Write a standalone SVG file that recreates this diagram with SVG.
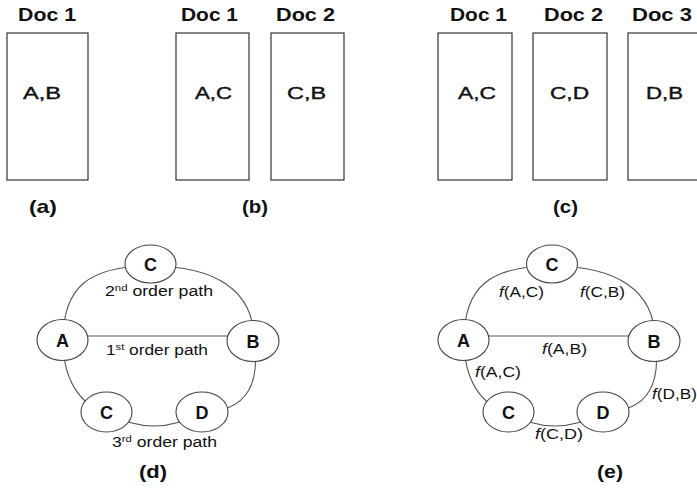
<svg xmlns="http://www.w3.org/2000/svg" width="697" height="489" viewBox="0 0 697 489">
<style>
text{font-family:"Liberation Sans",Arial,sans-serif;fill:#111}
.doc{font-size:18px;font-weight:bold}
.in{font-size:17px;stroke:#111;stroke-width:0.4}
.cap{font-size:19px;font-weight:bold}
.box{fill:#fff;stroke:#333;stroke-width:1.2}
.node ellipse{fill:#fff;stroke:#444;stroke-width:1.1}
.node text{font-size:18px;font-weight:bold;text-anchor:middle}
.edge{fill:none;stroke:#555;stroke-width:1.1}
.lbl{font-size:14px}
.sup{font-size:9px}
</style>
<rect width="697" height="489" fill="#fff"/>

<g id="panel-a">
<rect class="box" x="7" y="33" width="81" height="147"/>
<text class="doc" x="18" y="21" textLength="58" lengthAdjust="spacingAndGlyphs">Doc 1</text>
<text class="in" x="23" y="99" textLength="38" lengthAdjust="spacingAndGlyphs">A,B</text>
<text class="cap" x="29" y="213" textLength="28" lengthAdjust="spacingAndGlyphs">(a)</text>
</g>

<g id="panel-b">
<rect class="box" x="176" y="33" width="73" height="147"/>
<rect class="box" x="271" y="33" width="73" height="147"/>
<text class="doc" x="181" y="21" textLength="57" lengthAdjust="spacingAndGlyphs">Doc 1</text>
<text class="doc" x="276" y="21" textLength="59" lengthAdjust="spacingAndGlyphs">Doc 2</text>
<text class="in" x="195" y="99" textLength="37" lengthAdjust="spacingAndGlyphs">A,C</text>
<text class="in" x="287" y="99" textLength="39" lengthAdjust="spacingAndGlyphs">C,B</text>
<text class="cap" x="242" y="213" textLength="26" lengthAdjust="spacingAndGlyphs">(b)</text>
</g>

<g id="panel-c">
<rect class="box" x="438" y="33" width="74" height="147"/>
<rect class="box" x="533" y="33" width="74" height="147"/>
<rect class="box" x="628" y="33" width="74" height="147"/>
<text class="doc" x="450" y="21" textLength="57" lengthAdjust="spacingAndGlyphs">Doc 1</text>
<text class="doc" x="544" y="21" textLength="59" lengthAdjust="spacingAndGlyphs">Doc 2</text>
<text class="doc" x="632" y="21" textLength="60" lengthAdjust="spacingAndGlyphs">Doc 3</text>
<text class="in" x="458" y="99" textLength="38" lengthAdjust="spacingAndGlyphs">A,C</text>
<text class="in" x="550" y="99" textLength="39" lengthAdjust="spacingAndGlyphs">C,D</text>
<text class="in" x="646" y="99" textLength="37" lengthAdjust="spacingAndGlyphs">D,B</text>
<text class="cap" x="553" y="213" textLength="25" lengthAdjust="spacingAndGlyphs">(c)</text>
</g>

<g id="connectors">
<path class="edge" d="M63 340 C63 288 88 266 150 266 C215 266 254 290 254 340 C260 380 250 412 202 412 Q154 440 106 412 C80 405 63 380 63 340 Z"/>
<line class="edge" x1="63" y1="336" x2="253" y2="336"/>
<path class="edge" d="M464 340 C464 288 489 266 551 266 C616 266 655 290 655 340 C661 380 651 412 603 412 Q555 440 507 412 C481 405 464 380 464 340 Z"/>
<line class="edge" x1="464" y1="336" x2="654" y2="336"/>
</g>

<g id="d-C1" class="node"><ellipse cx="150.5" cy="264" rx="25.5" ry="19"/><text x="150.5" y="271">C</text></g>
<g id="d-A" class="node"><ellipse cx="62.5" cy="340" rx="25.5" ry="20.5"/><text x="62.5" y="347">A</text></g>
<g id="d-B" class="node"><ellipse cx="253" cy="341" rx="26" ry="20.5"/><text x="253" y="348">B</text></g>
<g id="d-C2" class="node"><ellipse cx="106.5" cy="412" rx="25.5" ry="20"/><text x="106.5" y="419">C</text></g>
<g id="d-D" class="node"><ellipse cx="202" cy="412" rx="26" ry="20"/><text x="202" y="419">D</text></g>

<g id="d-labels">
<text class="lbl" x="105" y="296" textLength="108" lengthAdjust="spacingAndGlyphs">2<tspan class="sup" dy="-5">nd</tspan><tspan dy="5"> order path</tspan></text>
<text class="lbl" x="106" y="355" textLength="102" lengthAdjust="spacingAndGlyphs">1<tspan class="sup" dy="-5">st</tspan><tspan dy="5"> order path</tspan></text>
<text class="lbl" x="112" y="447" textLength="105" lengthAdjust="spacingAndGlyphs">3<tspan class="sup" dy="-5">rd</tspan><tspan dy="5"> order path</tspan></text>
<text class="cap" x="139" y="478" textLength="28" lengthAdjust="spacingAndGlyphs">(d)</text>
</g>

<g id="e-C1" class="node"><ellipse cx="552" cy="264" rx="25.5" ry="19"/><text x="552" y="271">C</text></g>
<g id="e-A" class="node"><ellipse cx="463.5" cy="340" rx="25.5" ry="20.5"/><text x="463.5" y="347">A</text></g>
<g id="e-B" class="node"><ellipse cx="654" cy="341" rx="26" ry="20.5"/><text x="654" y="348">B</text></g>
<g id="e-C2" class="node"><ellipse cx="508.5" cy="412" rx="25.5" ry="20"/><text x="508.5" y="419">C</text></g>
<g id="e-D" class="node"><ellipse cx="603" cy="412" rx="26" ry="20"/><text x="603" y="419">D</text></g>

<g id="e-labels">
<text class="lbl" x="499" y="297" textLength="45" lengthAdjust="spacingAndGlyphs"><tspan font-style="italic">f</tspan>(A,C)</text>
<text class="lbl" x="580" y="297" textLength="45" lengthAdjust="spacingAndGlyphs"><tspan font-style="italic">f</tspan>(C,B)</text>
<text class="lbl" x="542" y="354" textLength="45" lengthAdjust="spacingAndGlyphs"><tspan font-style="italic">f</tspan>(A,B)</text>
<text class="lbl" x="475" y="377" textLength="46" lengthAdjust="spacingAndGlyphs"><tspan font-style="italic">f</tspan>(A,C)</text>
<text class="lbl" x="652" y="399" textLength="45" lengthAdjust="spacingAndGlyphs"><tspan font-style="italic">f</tspan>(D,B)</text>
<text class="lbl" x="535" y="439" textLength="48" lengthAdjust="spacingAndGlyphs"><tspan font-style="italic">f</tspan>(C,D)</text>
<text class="cap" x="597" y="478" textLength="26" lengthAdjust="spacingAndGlyphs">(e)</text>
</g>
</svg>
